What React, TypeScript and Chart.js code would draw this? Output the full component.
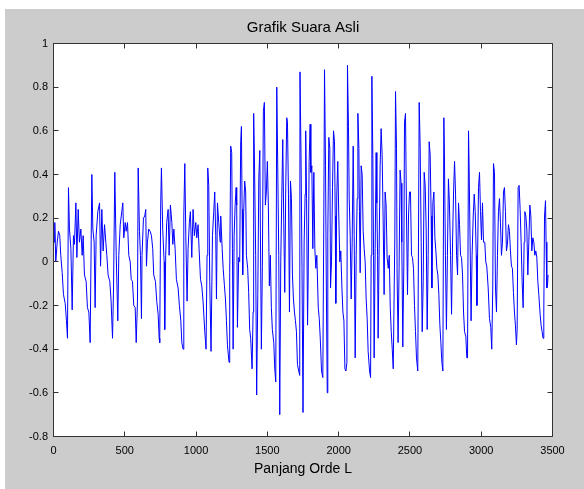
import React, { useEffect, useRef } from "react";
import { Chart, registerables } from "chart.js";

Chart.register(...registerables);

const TITLE = "Grafik Suara Asli";
const X_TITLE = "Panjang Orde L";
const X_MIN = 0;
const X_MAX = 3500;
const X_STEP = 500;
const Y_MIN = -0.8;
const Y_MAX = 1;
const Y_STEP = 0.2;

// [sample index, amplitude], in 6 stretches
const WAVE_A: [number, number][] = [
  [0, 0.18], [5, 0.09], [9, 0.18], [16, 0.0], [26, 0.09], [35, 0.14], [44, 0.12], [51, 0.03],
  [61, -0.05], [70, -0.15], [82, -0.19], [91, -0.27], [98, -0.35], [105, 0.34], [112, 0.15],
  [122, 0.06], [131, -0.22], [140, 0.12], [147, 0.08], [157, 0.27], [164, 0.02], [173, 0.24],
  [182, 0.09], [192, 0.15], [201, 0.03], [208, 0.12], [217, -0.06], [229, -0.09], [238, -0.21],
  [248, -0.23], [257, -0.37], [269, 0.4], [276, 0.15], [285, 0.09], [292, -0.21], [299, 0.12],
  [311, 0.23], [323, 0.27], [330, -0.02], [339, 0.24], [348, 0.05], [358, 0.17], [367, 0.09],
  [374, 0.03], [383, -0.06], [395, -0.09], [404, -0.18], [414, -0.35], [421, -0.12], [430, 0.41],
  [440, 0.03], [451, -0.27], [458, 0.03], [468, 0.17], [479, 0.23], [486, 0.27], [493, 0.11],
  [503, 0.18], [510, 0.14], [519, 0.18], [528, 0.03], [538, 0.0], [545, -0.08], [554, -0.09],
  [563, -0.2], [573, -0.21], [580, -0.37], [589, -0.18], [594, 0.43],
];

const WAVE_B: [number, number][] = [
  [603, 0.14], [610, 0.03], [617, -0.26], [621, 0.03], [631, 0.2], [640, 0.21], [647, 0.24],
  [652, -0.02], [659, 0.09], [668, 0.15], [678, 0.14], [687, 0.12], [696, 0.06], [703, -0.06],
  [715, -0.09], [724, -0.18], [734, -0.24], [741, -0.35], [745, -0.37], [752, 0.27], [757, 0.43],
  [766, 0.15], [776, 0.0], [780, -0.31], [787, 0.03], [794, 0.18], [804, 0.24], [811, 0.03],
  [820, 0.26], [830, 0.18], [837, 0.08], [844, 0.15], [853, 0.06], [862, -0.08], [874, -0.12],
  [883, -0.2], [893, -0.27], [900, -0.37], [909, -0.4], [914, 0.21], [921, 0.45], [928, 0.12],
  [937, -0.18], [944, 0.06], [953, 0.18], [960, 0.23], [970, 0.02], [979, 0.24], [988, 0.12],
  [998, 0.18], [1005, 0.11], [1014, 0.17], [1021, 0.06], [1031, -0.08], [1040, -0.11],
  [1049, -0.18], [1061, -0.32], [1070, -0.4], [1077, 0.03], [1082, 0.43], [1089, 0.35],
  [1096, -0.09], [1105, -0.41], [1115, 0.12], [1124, 0.23], [1131, 0.32], [1138, 0.12],
  [1143, -0.17], [1150, 0.27], [1159, 0.18], [1169, 0.09], [1173, 0.21], [1183, 0.06], [1190, -0.03],
];

const WAVE_C: [number, number][] = [
  [1199, -0.11], [1206, -0.17], [1213, -0.27], [1220, -0.38], [1231, -0.46], [1236, -0.05],
  [1243, 0.53], [1250, 0.5], [1255, 0.06], [1260, -0.4], [1267, 0.12], [1274, 0.26], [1281, 0.34],
  [1285, 0.26], [1290, -0.3], [1299, 0.02], [1306, 0.0], [1313, 0.55], [1318, 0.62], [1323, 0.24],
  [1327, -0.06], [1334, 0.23], [1341, 0.37], [1348, 0.32], [1353, 0.03], [1362, -0.03],
  [1369, -0.14], [1376, -0.31], [1383, -0.35], [1393, -0.49], [1400, -0.23], [1404, 0.68],
  [1409, 0.49], [1418, 0.03], [1425, -0.61], [1433, -0.15], [1440, 0.38], [1447, 0.51],
  [1451, 0.15], [1458, -0.4], [1465, -0.02], [1472, 0.69], [1479, 0.73], [1486, 0.26],
  [1493, 0.32], [1500, 0.46], [1507, 0.26], [1514, -0.11], [1521, 0.03], [1528, -0.21],
  [1535, -0.31], [1545, -0.37], [1552, -0.49], [1559, -0.55], [1566, 0.8], [1573, 0.43],
  [1580, 0.03], [1587, -0.7], [1594, 0.0], [1601, 0.29], [1608, 0.56], [1615, 0.18], [1622, -0.14],
  [1629, 0.34], [1636, 0.66], [1641, 0.64], [1648, 0.31], [1655, -0.23], [1662, 0.37], [1669, 0.29],
  [1676, -0.06], [1683, -0.17], [1690, -0.23], [1697, -0.27], [1704, -0.32], [1711, -0.47],
  [1720, -0.5], [1727, -0.52], [1729, 0.87], [1736, 0.49], [1743, -0.03], [1750, -0.69],
  [1758, 0.09], [1765, 0.31], [1769, 0.6],
];

const WAVE_D: [number, number][] = [
  [1775, 0.29], [1782, -0.29], [1786, -0.09], [1793, 0.46], [1800, 0.63], [1805, 0.41],
  [1812, 0.44], [1819, 0.06], [1826, 0.41], [1833, 0.06], [1840, -0.03], [1847, 0.03],
  [1857, -0.21], [1864, -0.26], [1871, -0.35], [1880, -0.5], [1889, -0.53], [1896, 0.21],
  [1901, 0.88], [1908, 0.44], [1913, -0.06], [1920, -0.6], [1924, 0.12], [1931, 0.57], [1938, 0.52],
  [1943, -0.12], [1950, 0.0], [1957, 0.34], [1964, 0.6], [1971, 0.55], [1976, 0.21], [1980, -0.19],
  [1987, 0.31], [1994, 0.46], [2001, 0.21], [2008, 0.0], [2015, 0.05], [2023, -0.12], [2030, -0.23],
  [2037, -0.27], [2044, -0.49], [2051, -0.5], [2058, -0.46], [2062, 0.9], [2069, 0.62], [2074, 0.29],
  [2081, 0.12], [2088, -0.17], [2095, 0.09], [2102, 0.53], [2109, 0.12], [2116, -0.44], [2123, 0.03],
  [2130, 0.29], [2135, 0.68], [2142, 0.52], [2146, 0.23], [2151, -0.05], [2158, 0.44], [2165, 0.4],
  [2172, 0.14], [2179, 0.06], [2186, 0.0], [2193, -0.17], [2200, -0.26], [2207, -0.41], [2217, -0.5],
  [2224, -0.53], [2228, 0.03], [2233, 0.85], [2240, 0.47], [2245, 0.03], [2249, -0.44], [2256, 0.06],
  [2263, 0.5], [2268, 0.27], [2273, 0.03], [2277, -0.35], [2284, 0.06], [2291, 0.44], [2298, 0.61],
  [2305, 0.49], [2312, 0.2], [2319, -0.15], [2326, 0.32], [2333, 0.26], [2340, 0.02], [2348, -0.03],
  [2355, 0.03], [2362, -0.21], [2369, -0.32], [2376, -0.4], [2383, -0.49],
];

const WAVE_E: [number, number][] = [
  [2394, 0.11], [2399, 0.78], [2406, 0.52], [2410, -0.06], [2417, -0.37], [2424, -0.03],
  [2431, 0.42], [2438, 0.36], [2443, 0.09], [2450, -0.39], [2457, -0.02], [2462, 0.64],
  [2469, 0.68], [2476, 0.21], [2483, -0.15], [2490, 0.21], [2497, 0.32], [2504, 0.32], [2511, 0.03],
  [2518, 0.02], [2525, -0.03], [2532, -0.2], [2539, -0.32], [2546, -0.44], [2555, -0.5], [2560, 0.09],
  [2565, 0.73], [2572, 0.52], [2579, 0.09], [2586, -0.32], [2593, -0.09], [2600, 0.41], [2607, 0.35],
  [2614, 0.15], [2621, -0.31], [2628, 0.03], [2635, 0.55], [2642, 0.49], [2649, 0.21], [2654, -0.12],
  [2661, 0.27], [2668, 0.32], [2675, 0.11], [2682, 0.05], [2689, -0.03], [2696, -0.06], [2703, -0.15],
  [2710, -0.29], [2717, -0.37], [2724, -0.46], [2731, -0.5], [2738, 0.66], [2742, 0.49], [2749, 0.03],
  [2756, -0.31], [2763, 0.03], [2770, 0.38], [2777, 0.27], [2785, 0.03], [2792, -0.24], [2799, 0.09],
  [2806, 0.32], [2813, 0.46], [2820, 0.31], [2827, 0.03], [2834, -0.06], [2841, 0.27], [2848, 0.17],
  [2855, 0.03], [2862, 0.02], [2869, -0.06], [2876, -0.23], [2883, -0.32], [2892, -0.34],
  [2899, -0.44], [2904, -0.44], [2911, 0.6], [2915, 0.44], [2922, 0.09], [2929, -0.27], [2936, 0.03],
  [2944, 0.21], [2951, 0.31], [2958, 0.23], [2965, 0.03], [2970, -0.2],
];

const WAVE_F: [number, number][] = [
  [2981, 0.34], [2988, 0.41], [2995, 0.23], [3002, 0.1], [3009, 0.27], [3016, 0.09], [3025, 0.09],
  [3032, 0.0], [3039, -0.02], [3049, -0.12], [3058, -0.26], [3067, -0.3], [3074, -0.4], [3081, -0.12],
  [3086, 0.45], [3093, 0.41], [3100, -0.12], [3107, -0.23], [3114, 0.03], [3121, 0.23], [3128, 0.29],
  [3135, 0.18], [3142, 0.03], [3149, 0.09], [3156, 0.32], [3163, 0.34], [3170, 0.23], [3177, 0.05],
  [3184, 0.08], [3191, 0.17], [3198, 0.14], [3205, 0.05], [3212, -0.02], [3219, -0.03], [3226, -0.14],
  [3233, -0.23], [3240, -0.29], [3247, -0.38], [3252, -0.31], [3259, 0.34], [3266, 0.35], [3273, 0.24],
  [3280, 0.09], [3287, -0.09], [3294, -0.21], [3301, 0.09], [3306, 0.23], [3313, 0.21], [3320, 0.15],
  [3327, -0.06], [3334, 0.09], [3341, 0.26], [3348, 0.21], [3355, 0.05], [3362, 0.11], [3369, 0.09],
  [3376, 0.03], [3383, 0.05], [3390, 0.02], [3397, -0.09], [3404, -0.15], [3413, -0.24], [3420, -0.29],
  [3427, -0.32], [3434, -0.35], [3439, -0.23], [3444, 0.21], [3451, 0.28], [3455, 0.09], [3460, -0.12],
  [3465, -0.11], [3469, -0.06], [3474, -0.06],
];

const WAVEFORM = [...WAVE_A, ...WAVE_B, ...WAVE_C, ...WAVE_D, ...WAVE_E, ...WAVE_F];

const FIGURE_GRAY = "#cccccc";
const LINE_BLUE = "#0000ff";
const AXIS_COLOR = "#333333";
const FONT = "'Liberation Sans', Arial, Helvetica, sans-serif";

const matlabAxes = {
  id: "matlabAxes",
  beforeDraw(chart: any) {
    const { ctx, width, height, chartArea: a } = chart;
    ctx.save();
    ctx.fillStyle = "#ffffff";
    ctx.fillRect(0, 0, width, height);
    ctx.fillStyle = FIGURE_GRAY;
    ctx.fillRect(5, 9, width - 5, height - 9);
    ctx.fillStyle = "#ffffff";
    ctx.fillRect(a.left, a.top, a.right - a.left, a.bottom - a.top);
    ctx.restore();
  },
  afterDatasetsDraw(chart: any) {
    const { ctx, chartArea: a, scales } = chart;
    const xs = scales.x;
    const ys = scales.y;
    const tl = 5;
    ctx.save();
    ctx.strokeStyle = AXIS_COLOR;
    ctx.lineWidth = 1;
    ctx.beginPath();
    ctx.rect(a.left, a.top, a.right - a.left, a.bottom - a.top);
    xs.ticks.forEach((t: any) => {
      const px = Math.round(xs.getPixelForValue(t.value) - 0.5) + 0.5;
      ctx.moveTo(px, a.bottom);
      ctx.lineTo(px, a.bottom - tl);
      ctx.moveTo(px, a.top);
      ctx.lineTo(px, a.top + tl);
    });
    ys.ticks.forEach((t: any) => {
      const py = Math.round(ys.getPixelForValue(t.value) - 0.5) + 0.5;
      ctx.moveTo(a.left, py);
      ctx.lineTo(a.left + tl, py);
      ctx.moveTo(a.right, py);
      ctx.lineTo(a.right - tl, py);
    });
    ctx.stroke();
    ctx.restore();
  },
};

export default function App() {
  const canvasRef = useRef<HTMLCanvasElement | null>(null);

  useEffect(() => {
    const canvas = canvasRef.current;
    if (!canvas) return;
    const chart = new Chart(canvas, {
      type: "line",
      data: {
        datasets: [
          {
            data: WAVEFORM.map(([x, y]) => ({ x, y })),
            borderColor: LINE_BLUE,
            borderWidth: 1,
            pointRadius: 0,
            tension: 0,
            fill: false,
          },
        ],
      },
      options: {
        animation: false,
        responsive: false,
        devicePixelRatio: 1,
        layout: { padding: { left: 0, right: 31.5, top: 0, bottom: 0 } },
        plugins: {
          legend: { display: false },
          tooltip: { enabled: false },
          title: {
            display: true,
            fullSize: false,
            text: TITLE,
            color: "#000000",
            font: { family: FONT, size: 15, weight: "normal", lineHeight: 1.2 },
            padding: { top: 19.2, bottom: 6.3 },
          },
        },
        scales: {
          x: {
            type: "linear",
            min: X_MIN,
            max: X_MAX,
            grid: { display: false, drawTicks: false },
            border: { display: false },
            ticks: {
              stepSize: X_STEP,
              autoSkip: false,
              maxRotation: 0,
              padding: 8,
              color: "#000000",
              font: { family: FONT, size: 11 },
              callback: (v: any) => String(Math.round(Number(v))),
            },
            title: {
              display: true,
              text: X_TITLE,
              color: "#000000",
              font: { family: FONT, size: 14, lineHeight: 1.2 },
              padding: { top: 0, bottom: 11.8 },
            },
            afterFit: (s: any) => {
              s.height = 52.5;
            },
          },
          y: {
            type: "linear",
            min: Y_MIN,
            max: Y_MAX,
            grid: { display: false, drawTicks: false },
            border: { display: false },
            ticks: {
              stepSize: Y_STEP,
              autoSkip: false,
              padding: 5.5,
              color: "#000000",
              font: { family: FONT, size: 11 },
              callback: (v: any) => String(Math.round(Number(v) * 10) / 10),
            },
            afterFit: (s: any) => {
              s.width = 53.5;
            },
          },
        },
      },
      plugins: [matlabAxes],
    } as any);
    return () => chart.destroy();
  }, []);

  return (
    <div style={{ position: "absolute", left: 0, top: 0, width: 584, height: 489 }}>
      <canvas ref={canvasRef} width={584} height={489} style={{ width: 584, height: 489, display: "block" }} />
    </div>
  );
}
